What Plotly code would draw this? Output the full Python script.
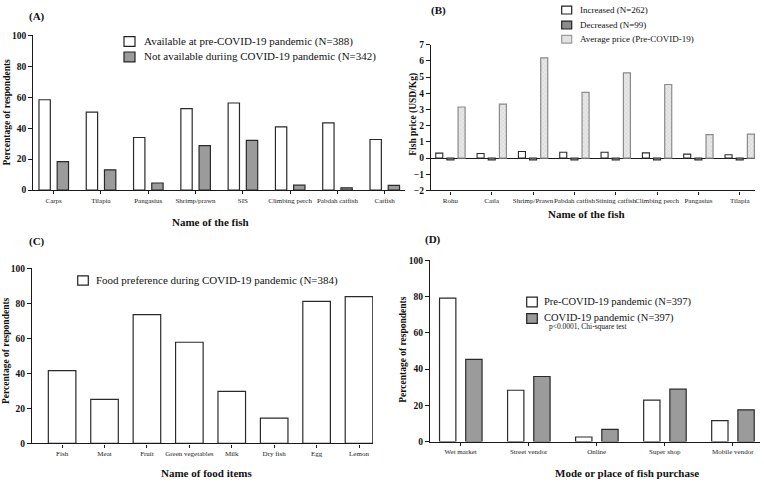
import plotly.graph_objects as go

# ---------------- data ----------------
fish_a = ["Carps", "Tilapia", "Pangasius", "Shrimp/prawn", "SIS",
          "Climbing perch", "Pabdah catfish", "Catfish"]
available_pre = [58.4, 50.4, 34.0, 52.7, 56.3, 40.9, 43.5, 32.7]
not_available = [18.4, 13.1, 4.6, 28.7, 32.1, 3.2, 1.5, 3.0]

fish_b = ["Rohu", "Catla", "Shrimp/Prawn", "Pabdah catfish", "Stining catfish",
          "Climbing perch", "Pangasius", "Tilapia"]
price_increased = [0.30, 0.28, 0.40, 0.36, 0.36, 0.32, 0.24, 0.20]
price_decreased = [-0.12, -0.12, -0.12, -0.12, -0.12, -0.12, -0.12, -0.12]
price_avg_pre = [3.15, 3.33, 6.19, 4.05, 5.26, 4.54, 1.45, 1.47]

food_items = ["Fish", "Meat", "Fruit", "Green vegetables", "Milk",
              "Dry fish", "Egg", "Lemon"]
food_pref = [41.5, 25.1, 73.5, 57.7, 29.7, 14.4, 81.0, 83.8]

modes = ["Wet market", "Street vendor", "Online", "Super shop", "Mobile vendor"]
pre_covid = [79.1, 28.3, 2.5, 22.9, 11.6]
during_covid = [45.4, 35.9, 6.7, 28.9, 17.5]

pct_ticks = [0, 20, 40, 60, 80, 100]
price_ticks = [-2, -1, 0, 1, 2, 3, 4, 5, 6, 7]

# ---------------- style ----------------
W, H = 764, 487
FONT = "Liberation Serif"
AX = "#1a1a1a"
EDGE = "#2a2a2a"
GREY = "#9b9b9b"


def px(x):
    return x / W


def py(y):
    return 1 - y / H


fig = go.Figure()

# Panel A
fig.add_bar(x=fish_a, y=available_pre, xaxis="x", yaxis="y", width=0.24, offset=-0.31,
            marker=dict(color="white", line=dict(color=EDGE, width=1.2)),
            name="Available at pre-COVID-19 pandemic (N=388)", showlegend=False)
fig.add_bar(x=fish_a, y=not_available, xaxis="x", yaxis="y", width=0.24, offset=0.075,
            marker=dict(color=GREY, line=dict(color=EDGE, width=1.2)),
            name="Not available duriing COVID-19 pandemic (N=342)", showlegend=False)

# Panel B
fig.add_bar(x=fish_b, y=price_increased, xaxis="x2", yaxis="y2", width=0.17, offset=-0.355,
            marker=dict(color="white", line=dict(color=EDGE, width=1.1)),
            name="Increased (N=262)", showlegend=False)
fig.add_bar(x=fish_b, y=price_decreased, xaxis="x2", yaxis="y2", width=0.17, offset=-0.085,
            marker=dict(color="#8c8c8c", line=dict(color=EDGE, width=1.1)),
            name="Decreased (N=99)", showlegend=False)
fig.add_bar(x=fish_b, y=price_avg_pre, xaxis="x2", yaxis="y2", width=0.17, offset=0.185,
            marker=dict(color="#e4e4e4", line=dict(color="#8a8a8a", width=1.2),
                        pattern=dict(shape="x", fgcolor="#b0b0b0", bgcolor="#e8e8e8",
                                     size=3, solidity=0.25)),
            name="Average price (Pre-COVID-19)", showlegend=False)

# Panel C
fig.add_bar(x=food_items, y=food_pref, xaxis="x3", yaxis="y3", width=0.65,
            marker=dict(color="white", line=dict(color=EDGE, width=1.2)),
            name="Food preference during COVID-19 pandemic (N=384)", showlegend=False)

# Panel D
fig.add_bar(x=modes, y=pre_covid, xaxis="x4", yaxis="y4", width=0.24, offset=-0.31,
            marker=dict(color="white", line=dict(color=EDGE, width=1.2)),
            name="Pre-COVID-19 pandemic (N=397)", showlegend=False)
fig.add_bar(x=modes, y=during_covid, xaxis="x4", yaxis="y4", width=0.24, offset=0.075,
            marker=dict(color=GREY, line=dict(color=EDGE, width=1.2)),
            name="COVID-19 pandemic (N=397)", showlegend=False)

xcommon = dict(showline=True, linecolor=AX, linewidth=1.4, ticks="outside", ticklen=3,
               tickwidth=1, tickcolor=AX, showgrid=False, zeroline=False,
               tickfont=dict(family=FONT, size=7, color="#222"), tickangle=0)
ycommon = dict(showline=True, linecolor=AX, linewidth=1.4, ticks="outside", ticklen=4,
               tickwidth=1.2, tickcolor=AX, showgrid=False, zeroline=False,
               tickfont=dict(family=FONT, size=9.5, color="#111", weight="bold"))

fig.update_layout(
    width=W, height=H, margin=dict(l=0, r=0, t=0, b=0),
    paper_bgcolor="white", plot_bgcolor="white", barmode="overlay",
    showlegend=False,
    xaxis=dict(domain=[px(33.3), px(405)], anchor="y", range=[-0.43, 7.43], **xcommon),
    yaxis=dict(domain=[py(189), py(31)], anchor="x", range=[0, 100], tickvals=pct_ticks, **ycommon),
    xaxis2=dict(domain=[px(431), px(755)], anchor="y2", range=[-0.47, 7.37], **xcommon),
    yaxis2=dict(domain=[py(189.3), py(40.5)], anchor="x2", range=[-2, 7], tickvals=price_ticks,
                **{**ycommon, "zeroline": True, "zerolinecolor": AX, "zerolinewidth": 1.4}),
    xaxis3=dict(domain=[px(32), px(373)], anchor="y3", range=[-0.71, 7.33], **xcommon),
    yaxis3=dict(domain=[py(447.5), py(268.7)], anchor="x3", range=[0, 100], tickvals=pct_ticks, **ycommon),
    xaxis4=dict(domain=[px(430), px(760)], anchor="y4", range=[-0.45, 4.40], **xcommon),
    yaxis4=dict(domain=[py(445.7), py(260.7)], anchor="x4", range=[0, 100], tickvals=pct_ticks, **ycommon),
)

ann = []
shapes = []


def text(x, y, s, size, bold=False, anchor="center", angle=0):
    ann.append(dict(x=px(x), y=py(y), xref="paper", yref="paper", text=s, showarrow=False,
                    xanchor=anchor, yanchor="middle", textangle=angle,
                    font=dict(family=FONT, size=size, color="#111",
                              weight="bold" if bold else "normal")))


def box(x0, x1, yc, h, fill, line="#222"):
    shapes.append(dict(type="rect", xref="paper", yref="paper",
                       x0=px(x0), x1=px(x1), y0=py(yc + h / 2), y1=py(yc - h / 2),
                       fillcolor=fill, line=dict(color=line, width=1.2)))


# panel letters
text(26.5, 11.7, "(A)", 11, True, "left")
text(428.5, 6, "(B)", 11, True, "left")
text(26.5, 241.7, "(C)", 11, True, "left")
text(423, 239.3, "(D)", 11, True, "left")

# axis titles
text(210, 221.7, "Name of the fish", 11, True)
text(6.7, 109, "Percentage of respondents", 9.5, True, angle=-90)
text(586.7, 213.3, "Name of the fish", 11, True)
text(413.3, 111.7, "Fish price (USD/Kg)", 9.5, True, angle=-90)
text(206.7, 478.3, "Name of food items", 11, True)
text(6.7, 352.5, "Percentage of respondents", 9.5, True, angle=-90)
text(626.7, 478.3, "Mode or place of fish purchase", 11, True)
text(403.3, 351.7, "Percentage of respondents", 9.5, True, angle=-90)

# legend A
box(124, 135, 37.3, 10, "white")
text(141.7, 37.3, "Available at pre-COVID-19 pandemic (N=388)", 11, anchor="left")
box(124, 135, 53, 10, GREY)
text(141.7, 53, "Not available duriing COVID-19 pandemic (N=342)", 11, anchor="left")

# legend B
box(561.7, 571.7, 5.2, 8, "white")
text(577.7, 5.2, "Increased (N=262)", 9, anchor="left")
box(561.7, 571.7, 20.5, 8, "#8c8c8c")
text(577.7, 20.5, "Decreased (N=99)", 9, anchor="left")
box(561.7, 571.7, 35, 8, "#e2e2e2", "#9a9a9a")
text(577.7, 35, "Average price (Pre-COVID-19)", 9, anchor="left")

# legend C
box(77.7, 88.3, 281.3, 9.5, "white")
text(94.3, 281.3, "Food preference during COVID-19 pandemic (N=384)", 11, anchor="left")

# legend D
box(526.7, 537.3, 303.3, 10, "white")
text(542.3, 303.3, "Pre-COVID-19 pandemic (N=397)", 10.5, anchor="left")
box(526.7, 537.3, 320, 10, GREY)
text(542.3, 320, "COVID-19 pandemic (N=397)", 10.5, anchor="left")
text(546.7, 328.5, "p<0.0001, Chi-square test", 7.5, anchor="left")

fig.update_layout(annotations=ann, shapes=shapes)
fig.write_html("out.html", config={"displayModeBar": False},
               post_script="document.body.style.margin='0';document.body.style.overflow='hidden';")
